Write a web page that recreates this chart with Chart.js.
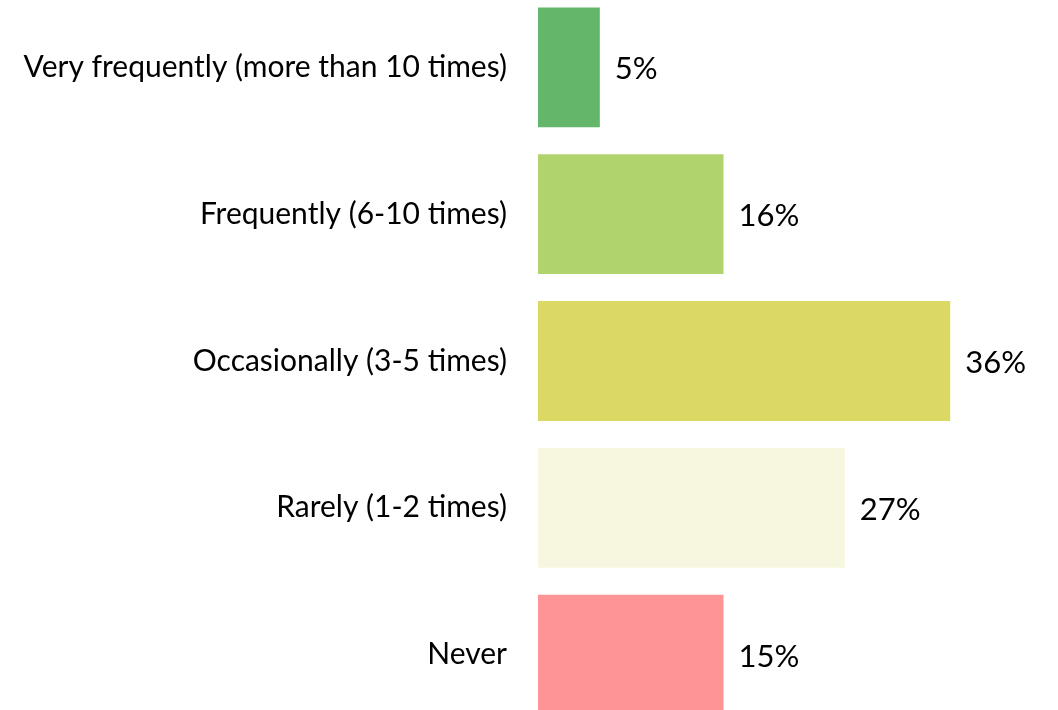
<!DOCTYPE html>
<html>
<head>
<meta charset="utf-8">
<script src="https://cdn.jsdelivr.net/npm/chart.js@4/dist/chart.umd.min.js"></script>
<style>
  html, body { margin: 0; padding: 0; background: #fff; overflow: hidden; }
  /* taller than the window: the last bar runs off the bottom edge, as in the source */
  #wrap { position: absolute; left: 0; top: -24px; width: 1058px; height: 770px; }
</style>
</head>
<body>
<div id="wrap"><canvas id="chart"></canvas></div>
<script>
/* ================= DATA ================= */

const categories = [
  "Very frequently (more than 10 times)",
  "Frequently (6-10 times)",
  "Occasionally (3-5 times)",
  "Rarely (1-2 times)",
  "Never",
];
const barValues = [5.4, 16.2, 36, 26.8, 16.2];
const valueLabels = ["5%", "16%", "36%", "27%", "15%"];
const barColors = ["#64b76a", "#b0d36d", "#dbd963", "#f7f7df", "#ff9497"];

/* ================= VALUE LABELS ================= */

const valueLabelPlugin = {
  id: "valueLabels",
  afterDatasetsDraw(chart) {
    const ctx = chart.ctx;
    const meta = chart.getDatasetMeta(0);
    ctx.save();
    ctx.font = "31px Lato";
    ctx.fillStyle = "#000";
    ctx.textAlign = "left";
    ctx.textBaseline = "middle";
    meta.data.forEach((bar, i) => {
      ctx.fillText(valueLabels[i], bar.x + 15, bar.y + 2);
    });
    ctx.restore();
  },
};

/* ================= CHART ================= */

new Chart(document.getElementById("chart"), {
  type: "bar",
  data: {
    labels: categories,
    datasets: [{
      data: barValues,
      backgroundColor: barColors,
      categoryPercentage: 1,
      barPercentage: 0.816,
    }],
  },
  options: {
    indexAxis: "y",
    responsive: true,
    maintainAspectRatio: false,
    animation: false,
    layout: { padding: { left: 0, right: 62, top: 0, bottom: 0 } },
    plugins: {
      legend: { display: false },
      tooltip: { enabled: false },
    },
    scales: {
      x: {
        display: false,
        min: 0,
        max: 40,
      },
      y: {
        // tick marks hidden, their length only spaces the labels from the bars
        grid: { display: false, drawTicks: true, tickLength: 31 },
        border: { display: false },
        afterFit(scale) { scale.width = 538; },
        ticks: {
          color: "#000",
          padding: 0,
          font: { family: "Lato", size: 30 },
        },
      },
    },
  },
  plugins: [valueLabelPlugin],
});
</script>
</body>
</html>
